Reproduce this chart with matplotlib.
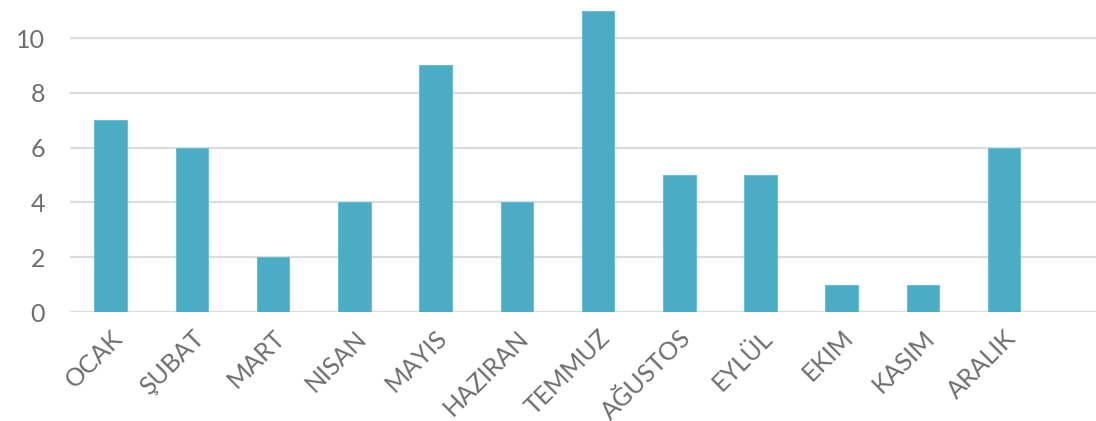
import matplotlib.pyplot as plt
import numpy as np

months = ['OCAK', 'ŞUBAT', 'MART', 'NISAN', 'MAYIS', 'HAZIRAN',
          'TEMMUZ', 'AĞUSTOS', 'EYLÜL', 'EKIM', 'KASIM', 'ARALIK']
counts = [7, 6, 2, 4, 9, 4, 11, 5, 5, 1, 1, 6]

plt.rcParams['font.family'] = ['Lato', 'DejaVu Sans']

fig = plt.figure(figsize=(10.96, 4.21), dpi=100)
ax = fig.add_axes([70 / 1096, 1 - 312 / 421, 1 - 70 / 1096, (312 - 10.6) / 421])

x = np.arange(len(months))
ax.bar(x, counts, width=0.4, color='#4BACC6', edgecolor='#6DBDD3', linewidth=0.8, zorder=3)

ax.set_ylim(0, 11)
ax.set_xlim(-0.5, 12.13)
ax.set_yticks(range(0, 11, 2))
ax.yaxis.grid(True, color='#DCDCDC', linewidth=1.6, zorder=0)
ax.set_axisbelow(True)
for s in ax.spines.values():
    s.set_visible(False)
ax.tick_params(length=0, colors='#6E6E6E', labelsize=18)
ax.tick_params(axis='y', pad=18)

ax.set_xticks(x)
ax.set_xticklabels(months, rotation=45, ha='right', rotation_mode='anchor')
ax.tick_params(axis='x', pad=10, labelsize=18)

fig.savefig('out.png', dpi=100)
